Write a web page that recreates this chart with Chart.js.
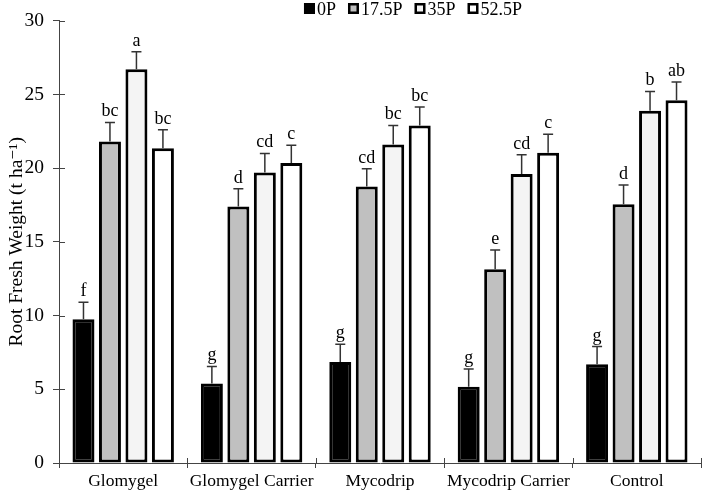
<!DOCTYPE html>
<html>
<head>
<meta charset="utf-8">
<script src="https://cdn.jsdelivr.net/npm/chart.js@4.4.0/dist/chart.umd.min.js"></script>
<style>
  html, body { margin: 0; background: #fff; }
  #wrap { width: 702px; height: 498px; }
</style>
</head>
<body>
<div id="wrap"><canvas id="chart"></canvas></div>
<script>
// data
const categories = ['Glomygel', 'Glomygel Carrier', 'Mycodrip', 'Mycodrip Carrier', 'Control'];
const seriesNames = ['0P', '17.5P', '35P', '52.5P'];

const p0   = [9.75, 5.4, 6.85, 5.17, 6.7];
const p175 = [21.8, 17.4, 18.75, 13.15, 17.55];
const p35  = [26.7, 19.7, 21.6, 19.6, 23.9];
const p525 = [21.35, 20.35, 22.9, 21.05, 24.6];

const err0   = [1.15, 1.15, 1.2, 1.2, 1.2];
const err175 = [1.3, 1.2, 1.2, 1.3, 1.3];
const err35  = [1.2, 1.3, 1.3, 1.3, 1.3];
const err525 = [1.25, 1.2, 1.25, 1.25, 1.25];

const let0   = ['f', 'g', 'g', 'g', 'g'];
const let175 = ['bc', 'd', 'cd', 'e', 'd'];
const let35  = ['a', 'cd', 'bc', 'cd', 'b'];
const let525 = ['bc', 'c', 'bc', 'c', 'ab'];

const yTicks = [0, 5, 10, 15, 20, 25, 30];

const fills = ['#000000', '#c0c0c0', '#f4f4f4', '#ffffff'];
const values = [p0, p175, p35, p525];
const errors = [err0, err175, err35, err525];
const letters = [let0, let175, let35, let525];

const serif = "'Liberation Serif', 'DejaVu Serif', serif";
const axisColor = '#444';
Chart.defaults.font.family = serif;
Chart.defaults.color = '#000';

// error bars + significance letters
const errorBars = {
  id: 'errorBars',
  afterDatasetsDraw(chart) {
    const ctx = chart.ctx;
    const y = chart.scales.y;
    ctx.save();
    ctx.strokeStyle = '#333';
    ctx.lineWidth = 1.5;
    ctx.fillStyle = '#000';
    ctx.font = '18px ' + serif;
    ctx.textAlign = 'center';
    ctx.textBaseline = 'alphabetic';
    chart.data.datasets.forEach((ds, i) => {
      chart.getDatasetMeta(i).data.forEach((bar, j) => {
        const top = y.getPixelForValue(values[i][j] + errors[i][j]);
        ctx.beginPath();
        ctx.moveTo(bar.x, bar.y);
        ctx.lineTo(bar.x, top);
        ctx.moveTo(bar.x - 5, top);
        ctx.lineTo(bar.x + 5, top);
        ctx.stroke();
        ctx.fillText(letters[i][j], bar.x, top - 6);
      });
    });
    ctx.restore();
  }
};

// ticks that cross the axis lines (inner halves)
const innerTicks = {
  id: 'innerTicks',
  afterDraw(chart) {
    const ctx = chart.ctx;
    const x = chart.scales.x, y = chart.scales.y;
    ctx.save();
    ctx.strokeStyle = axisColor;
    ctx.lineWidth = 1;
    ctx.beginPath();
    yTicks.forEach(v => {
      const py = Math.round(y.getPixelForValue(v)) + 0.5;
      ctx.moveTo(x.left, py);
      ctx.lineTo(x.left + 6, py);
    });
    for (let i = 0; i <= categories.length; i++) {
      const px = Math.round(x.getPixelForValue(i - 0.5)) + 0.5;
      ctx.moveTo(px, y.bottom);
      ctx.lineTo(px, y.bottom - 5);
    }
    ctx.stroke();
    ctx.restore();
  }
};

// compact legend at the top
const topLegend = {
  id: 'topLegend',
  afterDraw(chart) {
    const ctx = chart.ctx;
    ctx.save();
    ctx.font = '18px ' + serif;
    ctx.textBaseline = 'alphabetic';
    const box = 11, gapText = 2, gapItem = 12;
    const widths = seriesNames.map(n => box + gapText + ctx.measureText(n).width);
    const total = widths.reduce((a, b) => a + b, 0) + gapItem * (seriesNames.length - 1);
    let cx = 413 - total / 2;
    seriesNames.forEach((n, i) => {
      ctx.fillStyle = fills[i];
      ctx.fillRect(cx, 3, box, box);
      ctx.strokeStyle = '#000';
      ctx.lineWidth = 2.5;
      ctx.strokeRect(cx + 1.25, 4.25, box - 2.5, box - 2.5);
      ctx.fillStyle = '#000';
      ctx.fillText(n, cx + box + gapText, 15);
      cx += widths[i] + gapItem;
    });
    ctx.restore();
  }
};

new Chart(document.getElementById('chart'), {
  type: 'bar',
  data: {
    labels: categories,
    datasets: seriesNames.map((name, i) => ({
      label: name,
      data: values[i],
      backgroundColor: fills[i],
      borderColor: '#000',
      borderWidth: 3,
      borderSkipped: false,
      categoryPercentage: 0.825,
      barPercentage: 0.83
    }))
  },
  options: {
    responsive: true,
    maintainAspectRatio: false,
    animation: false,
    layout: { padding: { top: 17, right: 1, left: 0, bottom: 0 } },
    plugins: {
      legend: { display: false },
      tooltip: { enabled: false }
    },
    scales: {
      x: {
        grid: { offset: true, drawOnChartArea: false, tickLength: 5, color: axisColor },
        border: { color: axisColor, width: 1 },
        ticks: { font: { size: 17.5 }, padding: 3, color: '#000', maxRotation: 0, autoSkip: false },
        afterFit: s => { s.height = 35; }
      },
      y: {
        min: 0,
        max: 30,
        afterBuildTicks: s => { s.ticks = yTicks.map(v => ({ value: v })); },
        grid: { drawOnChartArea: false, tickLength: 6, color: axisColor },
        border: { color: axisColor, width: 1 },
        ticks: { font: { size: 19.5 }, padding: 9, color: '#000' },
        title: {
          display: true,
          text: 'Root Fresh Weight (t ha\u207B\u00B9)',
          font: { size: 19.5 },
          color: '#000',
          padding: { top: 5, bottom: 0 }
        },
        afterFit: s => { s.width = 59; }
      }
    }
  },
  plugins: [errorBars, innerTicks, topLegend]
});
</script>
</body>
</html>
